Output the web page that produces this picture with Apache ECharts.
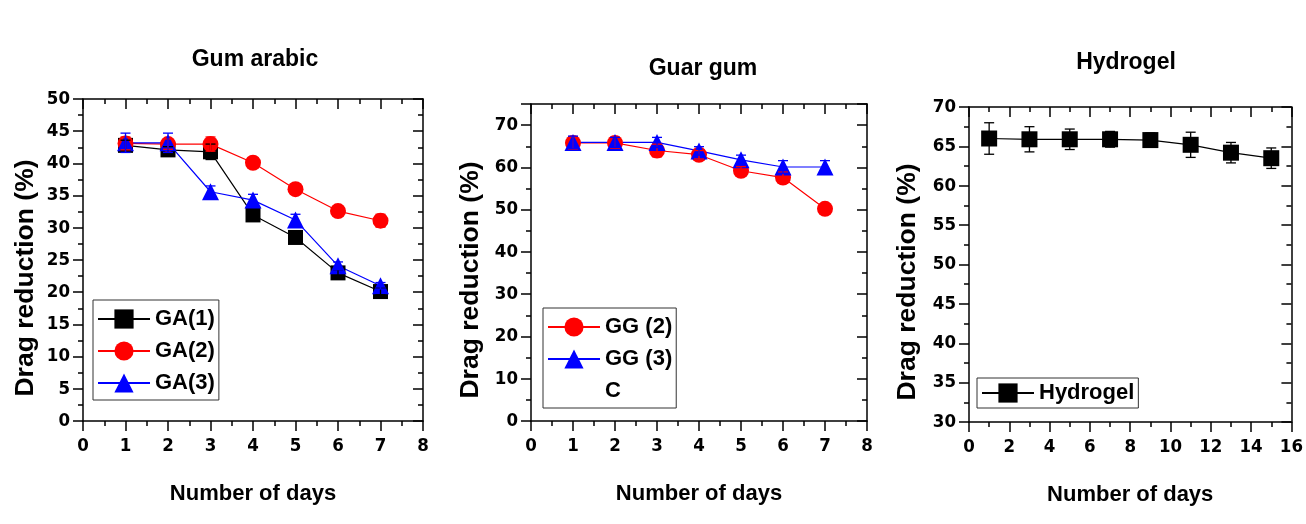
<!DOCTYPE html>
<html>
<head>
<meta charset="utf-8">
<script src="https://cdn.jsdelivr.net/npm/echarts@6/dist/echarts.min.js"></script>
<style>
  html, body { margin: 0; padding: 0; background: #ffffff; }
  #chart { width: 1306px; height: 524px; }
</style>
</head>
<body>
<div id="chart"></div>
<script>
// Drag reduction (%) over time for three drag-reducing agents

// Gum arabic
const gaDays = [1, 2, 3, 4, 5, 6, 7];
const ga1 = [42.8, 42.1, 41.8, 32.0, 28.5, 23.0, 20.1];
const ga1Err = [0.8, 0.5, 1.2, 0.5, 0.9, 0.5, 0.5];
const ga2 = [43.1, 43.0, 43.0, 40.1, 36.0, 32.6, 31.1];
const ga2Err = [1.0, 0.8, 1.1, 0.5, 0.8, 0.5, 1.0];
const ga3 = [43.2, 43.2, 35.6, 34.3, 31.2, 24.1, 21.0];
const ga3Err = [1.5, 1.5, 0.9, 0.9, 0.9, 0.6, 0.5];

// Guar gum
const ggDays = [1, 2, 3, 4, 5, 6, 7];
const gg2 = [65.8, 65.8, 64.0, 63.0, 59.2, 57.6, 50.2];
const gg2Err = [1.5, 1.3, 1.5, 1.0, 1.0, 1.3, 0.8];
const gg3 = [65.9, 65.9, 65.9, 63.9, 61.8, 60.1, 60.1];
const gg3Err = [1.5, 1.2, 1.2, 1.0, 1.1, 1.5, 1.5];

// Hydrogel
const hgDays = [1, 3, 5, 7, 9, 11, 13, 15];
const hg = [66.0, 65.9, 65.9, 65.9, 65.8, 65.2, 64.2, 63.5];
const hgErr = [2.0, 1.6, 1.3, 1.0, 0.9, 1.6, 1.3, 1.3];

const panelTitles = ['Gum arabic', 'Guar gum', 'Hydrogel'];
const xTitle = 'Number of days';
const yTitle = 'Drag reduction (%)';

const FONT = '"Liberation Sans", Arial, sans-serif';
const NARROW = '"Liberation Sans Narrow", "DejaVu Sans Condensed", "Liberation Sans", sans-serif';

const grids = [
  { left: 83, top: 99, width: 340, height: 322 },
  { left: 531, top: 104, width: 336, height: 317 },
  { left: 969, top: 107, width: 323, height: 315 }
];

const xRanges = [
  { min: 0, max: 8, interval: 1 },
  { min: 0, max: 8, interval: 1 },
  { min: 0, max: 16, interval: 2 }
];
const yRanges = [
  { min: 0, max: 50, interval: 5 },
  { min: 0, max: 75, interval: 10 },
  { min: 30, max: 70, interval: 5 }
];
// centre of each rotated y-axis title
const yTitlePos = [[26, 278], [471, 280], [908, 282]];

const axisLine = { show: true, onZero: false, lineStyle: { color: '#000', width: 1.5 } };
const tickStyle = { color: '#000', width: 1.5 };

const xAxes = [];
const yAxes = [];
grids.forEach((g, i) => {
  const xr = xRanges[i], yr = yRanges[i];
  // bottom axis with labels
  xAxes.push({
    type: 'value', gridIndex: i, position: 'bottom',
    min: xr.min, max: xr.max, interval: xr.interval,
    name: xTitle, nameLocation: 'middle', nameGap: 62,
    nameTextStyle: { fontFamily: FONT, fontWeight: 'bold', fontSize: 22, color: '#000' },
    axisLine: axisLine,
    axisTick: { show: true, inside: false, length: 10, lineStyle: tickStyle },
    minorTick: { show: true, splitNumber: 2, length: 5, lineStyle: tickStyle },
    axisLabel: { margin: 16, fontFamily: NARROW, fontWeight: 'bold', fontSize: 18.5, color: '#000' },
    splitLine: { show: false }
  });
  // mirrored top axis
  xAxes.push({
    type: 'value', gridIndex: i, position: 'top',
    min: xr.min, max: xr.max, interval: xr.interval,
    axisLine: axisLine,
    axisTick: { show: true, inside: true, length: 10, lineStyle: tickStyle },
    minorTick: { show: true, splitNumber: 2, length: 5, lineStyle: tickStyle },
    axisLabel: { show: false },
    splitLine: { show: false }
  });
  yAxes.push({
    type: 'value', gridIndex: i, position: 'left',
    min: yr.min, max: yr.max, interval: yr.interval,
    axisLine: axisLine,
    axisTick: { show: true, inside: false, length: 10, lineStyle: tickStyle },
    minorTick: { show: true, splitNumber: 2, length: 5, lineStyle: tickStyle },
    axisLabel: {
      margin: 13, fontFamily: NARROW, fontWeight: 'bold', fontSize: 18.5, color: '#000',
      formatter: v => (v % yr.interval === 0 ? String(v) : '')
    },
    splitLine: { show: false }
  });
  // mirrored right axis
  yAxes.push({
    type: 'value', gridIndex: i, position: 'right',
    min: yr.min, max: yr.max, interval: yr.interval,
    axisLine: axisLine,
    axisTick: { show: true, inside: true, length: 10, lineStyle: tickStyle },
    minorTick: { show: true, splitNumber: 2, length: 5, lineStyle: tickStyle },
    axisLabel: { show: false },
    splitLine: { show: false }
  });
});

function zip(xs, ys) { return xs.map((x, k) => [x, ys[k]]); }
function zipErr(xs, ys, es) { return xs.map((x, k) => [x, ys[k], es[k]]); }

function lineSeries(name, grid, xs, ys, color, symbol, size) {
  return {
    name: name, type: 'line',
    xAxisIndex: grid * 2, yAxisIndex: grid * 2,
    data: zip(xs, ys),
    symbol: symbol, symbolSize: size,
    lineStyle: { color: color, width: 1.2 },
    itemStyle: { color: color },
    z: 3
  };
}

function errorSeries(grid, xs, ys, es, color) {
  return {
    type: 'custom',
    xAxisIndex: grid * 2, yAxisIndex: grid * 2,
    data: zipErr(xs, ys, es),
    z: 4,
    silent: true,
    renderItem: function (params, api) {
      const x = api.value(0), y = api.value(1), e = api.value(2);
      const hi = api.coord([x, y + e]);
      const lo = api.coord([x, y - e]);
      const cap = 5;
      const style = { stroke: color, lineWidth: 1.3 };
      return {
        type: 'group',
        children: [
          { type: 'line', shape: { x1: hi[0], y1: hi[1], x2: lo[0], y2: lo[1] }, style: style },
          { type: 'line', shape: { x1: hi[0] - cap, y1: hi[1], x2: hi[0] + cap, y2: hi[1] }, style: style },
          { type: 'line', shape: { x1: lo[0] - cap, y1: lo[1], x2: lo[0] + cap, y2: lo[1] }, style: style }
        ]
      };
    }
  };
}

const RED = '#ff0000', BLUE = '#0000ff', BLACK = '#000000';

const series = [
  lineSeries('GA(1)', 0, gaDays, ga1, BLACK, 'rect', 15),
  errorSeries(0, gaDays, ga1, ga1Err, BLACK),
  lineSeries('GA(2)', 0, gaDays, ga2, RED, 'circle', 16),
  errorSeries(0, gaDays, ga2, ga2Err, RED),
  lineSeries('GA(3)', 0, gaDays, ga3, BLUE, 'triangle', 17),
  errorSeries(0, gaDays, ga3, ga3Err, BLUE),

  lineSeries('GG (2)', 1, ggDays, gg2, RED, 'circle', 16),
  errorSeries(1, ggDays, gg2, gg2Err, RED),
  lineSeries('GG (3)', 1, ggDays, gg3, BLUE, 'triangle', 17),
  errorSeries(1, ggDays, gg3, gg3Err, BLUE),
  {
    name: 'C', type: 'line', xAxisIndex: 2, yAxisIndex: 2, data: [],
    symbol: 'none', lineStyle: { opacity: 0 }, itemStyle: { opacity: 0 }
  },

  lineSeries('Hydrogel', 2, hgDays, hg, BLACK, 'rect', 16),
  errorSeries(2, hgDays, hg, hgErr, BLACK)
];

const legendBase = {
  orient: 'vertical',
  backgroundColor: '#fff',
  borderColor: '#333',
  borderWidth: 1,
  itemWidth: 52,
  itemHeight: 24,
  itemGap: 10,
  selectedMode: false,
  textStyle: { fontFamily: FONT, fontWeight: 'bold', fontSize: 22, color: '#000' }
};

const titleStyle = { fontFamily: FONT, fontWeight: 'bold', fontSize: 23, color: '#000' };

const option = {
  backgroundColor: '#ffffff',
  animation: false,
  title: [
    { text: panelTitles[0], left: 250, top: 43, textAlign: 'center', textStyle: titleStyle },
    { text: panelTitles[1], left: 698, top: 52, textAlign: 'center', textStyle: titleStyle },
    { text: panelTitles[2], left: 1121, top: 46, textAlign: 'center', textStyle: titleStyle }
  ],
  grid: grids,
  xAxis: xAxes,
  yAxis: yAxes,
  graphic: yTitlePos.map(p => ({
    type: 'text', x: p[0], y: p[1], rotation: Math.PI / 2,
    style: {
      text: yTitle, align: 'center', verticalAlign: 'middle',
      font: 'bold 26.5px ' + FONT, fill: '#000'
    }
  })),
  legend: [
    Object.assign({}, legendBase, { left: 93, top: 300, padding: [8, 4, 6, 4], data: ['GA(1)', 'GA(2)', 'GA(3)'] }),
    Object.assign({}, legendBase, { left: 543, top: 308, padding: [8, 4, 6, 4], data: ['GG (2)', 'GG (3)', 'C'] }),
    Object.assign({}, legendBase, { left: 977, top: 378, padding: [4, 4, 4, 4], data: ['Hydrogel'] })
  ],
  series: series
};

const chart = echarts.init(document.getElementById('chart'), null, { renderer: 'canvas' });
chart.setOption(option);
</script>
</body>
</html>
